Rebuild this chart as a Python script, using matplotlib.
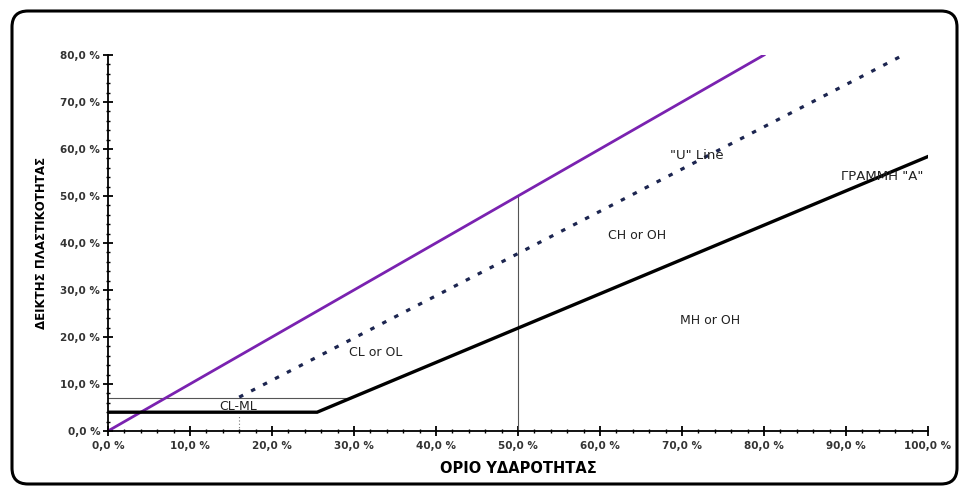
"""
Plasticity chart (Casagrande) - recreated with matplotlib
Output: out.png
"""

import matplotlib.pyplot as plt
from matplotlib.patches import FancyBboxPatch
from matplotlib.ticker import MultipleLocator, FuncFormatter

plt.rcParams["font.family"] = ["DejaVu Sans"]

# Line end points (liquid limit %, plasticity index %)
upper_x = [0, 80]
upper_y = [0, 80]

u_line_x = [16, 97]
u_line_y = [7.2, 80]

a_line_x = [0, 25.5, 100]
a_line_y = [4, 4, 58.4]

clml_top_x = [0, 29.6]
clml_top_y = [7, 7]

ll50_x = [50, 50]
ll50_y = [0, 50]

ll16_x = [16, 16]
ll16_y = [0, 3.5]

# Zone labels and their positions
zone_labels = ["CL or OL", "CH or OH", "MH or OH", "CL-ML"]
zone_x = [32.6, 64.5, 73.4, 15.9]
zone_y = [16.8, 41.7, 23.6, 5.3]

fig = plt.figure(figsize=(9.63, 4.87), dpi=100)

# Rounded frame around the whole picture (inch units so corners stay round)
frame = FancyBboxPatch(
    (0.12, 0.03), 9.45, 4.73,
    boxstyle="round,pad=0,rounding_size=0.16",
    transform=fig.dpi_scale_trans, fill=False, edgecolor="black", linewidth=2.2,
)
fig.patches.append(frame)

ax = fig.add_axes([108 / 963, 56 / 487, 820 / 963, 376 / 487])

# thin reference lines
ax.plot(clml_top_x, clml_top_y, color="#555555", linewidth=0.8)
ax.plot(ll50_x, ll50_y, color="#555555", linewidth=0.8)
ax.plot(ll16_x, ll16_y, color="#777777", linewidth=0.8, linestyle=(0, (1, 2)))

# main lines
ax.plot(upper_x, upper_y, color="#7a22b0", linewidth=2.0)
ax.plot(u_line_x, u_line_y, color="#1c2550", linewidth=2.3, linestyle=(0, (1.4, 2.8)))
ax.plot(a_line_x, a_line_y, color="black", linewidth=2.4, solid_joinstyle="miter")

# zone labels
for label, x, y in zip(zone_labels, zone_x, zone_y):
    ax.text(x, y, label, fontsize=9, ha="center", va="center", color="#222222")

ax.text(71.8, 58.7, '"U" Line', fontsize=9.5, ha="center", va="center", color="#222222")
ax.text(94.4, 54.1, 'ΓΡΑΜΜΗ "Α"', fontsize=9.5, ha="center", va="center", color="#222222")

# axes
ax.set_xlim(0, 100)
ax.set_ylim(0, 80)
ax.spines["top"].set_visible(False)
ax.spines["right"].set_visible(False)
ax.spines["left"].set_linewidth(1.3)
ax.spines["bottom"].set_linewidth(1.3)

pct = FuncFormatter(lambda v, pos: f"{v:.1f} %".replace(".", ","))
ax.xaxis.set_major_locator(MultipleLocator(10))
ax.xaxis.set_minor_locator(MultipleLocator(2))
ax.yaxis.set_major_locator(MultipleLocator(10))
ax.yaxis.set_minor_locator(MultipleLocator(2))
ax.xaxis.set_major_formatter(pct)
ax.yaxis.set_major_formatter(pct)

ax.tick_params(which="major", direction="inout", length=7, width=1.3,
               labelsize=7.5, labelcolor="#333333", pad=2)
ax.tick_params(which="minor", direction="inout", length=3, width=1.0)
ax.tick_params(axis="x", which="major", pad=4)
for lbl in ax.get_xticklabels() + ax.get_yticklabels():
    lbl.set_fontweight("bold")

ax.set_xlabel("ΟΡΙΟ ΥΔΑΡΟΤΗΤΑΣ", fontsize=10.5, fontweight="bold", labelpad=7)
ax.set_ylabel("ΔΕΙΚΤΗΣ ΠΛΑΣΤΙΚΟΤΗΤΑΣ", fontsize=8.5, fontweight="bold", labelpad=9)

plt.savefig("out.png", dpi=100)
